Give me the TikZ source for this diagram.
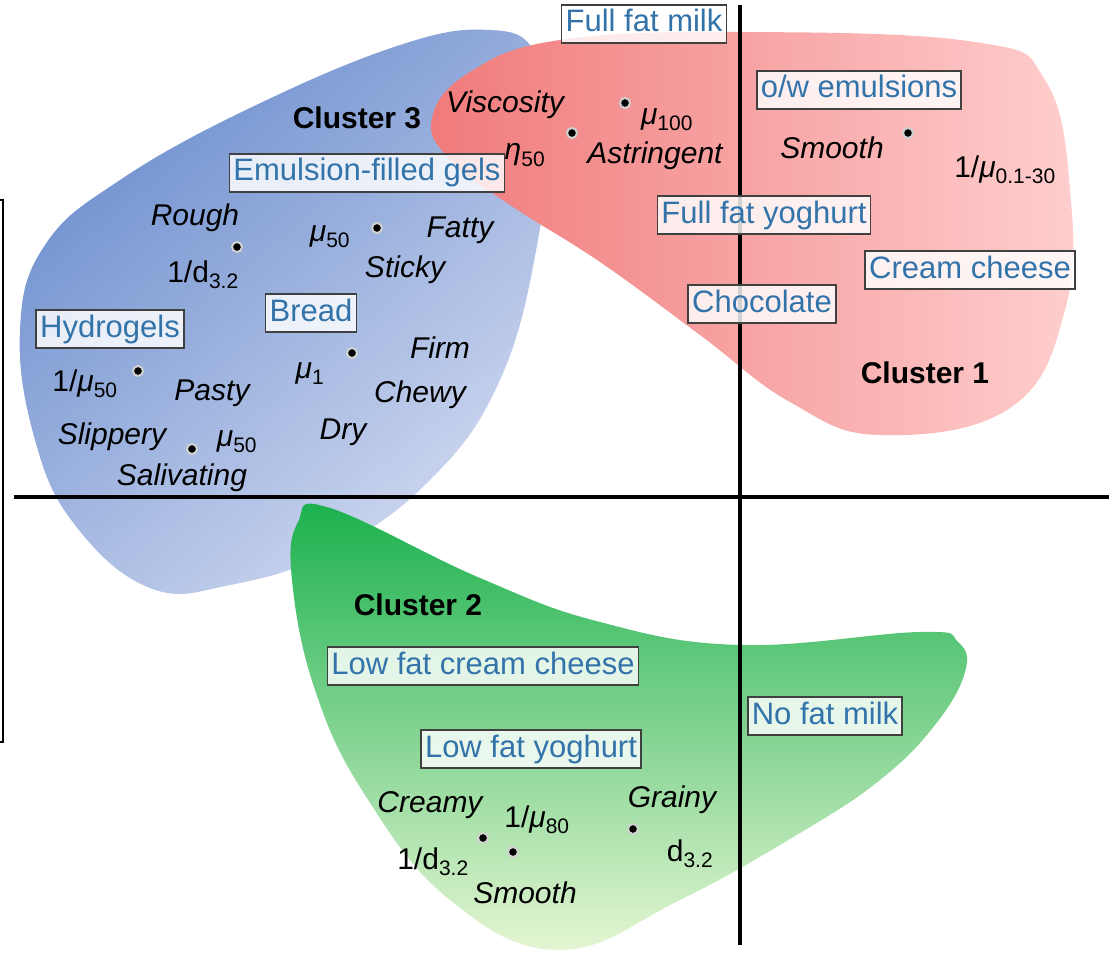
\documentclass[tikz,border=0pt]{standalone}
\usepackage{fontspec}
\setmainfont{Liberation Sans}
\usetikzlibrary{positioning}

\definecolor{boxtext}{RGB}{50,115,170}
\definecolor{blueDark}{RGB}{108,142,206}
\definecolor{blueLight}{RGB}{208,217,240}
\definecolor{redDark}{RGB}{240,122,122}
\definecolor{redLight}{RGB}{255,206,206}
\definecolor{greenDark}{RGB}{25,176,76}
\definecolor{greenLight}{RGB}{228,245,210}

\tikzset{
  sample/.style={draw=black!75, line width=1.5pt, fill=white, fill opacity=0.82,
    text opacity=1, text=boxtext, inner xsep=4pt, inner ysep=4pt,
    text height=23pt, text depth=7pt, font=\fontsize{31}{34}\selectfont},
  attr/.style={inner sep=0pt, font=\fontsize{30}{34}\selectfont\itshape},
  meas/.style={inner sep=0pt, font=\fontsize{30}{34}\selectfont},
  cluster/.style={inner sep=0pt, font=\fontsize{30}{34}\selectfont\bfseries},
  pt/.style={circle, fill=black, draw=black!18, line width=2pt, inner sep=0pt, minimum size=10pt},
  axis/.style={line width=3.5pt},
  blobthree/.style={top color=blueDark, bottom color=blueLight, shading angle=40},
  blobone/.style={left color=redDark, right color=redLight},
  blobtwo/.style={top color=greenDark, bottom color=greenLight},
}

\begin{document}
\begin{tikzpicture}[x=1pt,y=-1pt]
       \useasboundingbox(0,0)rectangle(1109,955);
       % cluster areas
       \shade[blobthree]plot[smooth cycle, tension=0.7]coordinates{(150,588)(75,525)(35,440)(20,330)(45,245)(120,180)(250,108)(400,45)(490,30)(535,52)(548,120)(538,240)(500,380)(430,480)(330,552)(230,585)};
       \shade[blobtwo]plot[smooth cycle, tension=0.7]coordinates{(298,522)(330,508)(480,578)(600,622)(740,645)(920,632)(958,642)(965,672)(935,725)(880,780)(800,833)(680,900)(560,950)(450,900)(365,795)(315,690)(292,580)};
       \shade[blobone]plot[smooth cycle, tension=0.7]coordinates{(432,118)(470,72)(560,40)(740,32)(975,42)(1045,80)(1070,190)(1065,310)(1010,408)(880,435)(790,402)(700,335)(600,262)(510,205)(450,160)};
       % axes
       \coordinate(Left)at(14,497);
       \coordinate(Right)at(1109,497);
       \coordinate(Top)at(740,5);
       \coordinate(Bottom)at(740,945);
       \draw[axis](Left)--(Right);
       \draw[axis](Top)--(Bottom);
       \coordinate(FrameTop)at(0,200);
       \coordinate(FrameBottom)at(0,742);
       \draw[line width=2.5pt](FrameTop)-|(3,742)--(FrameBottom);
       % cluster 3
       \node[cluster](c3)at(357,118){Cluster 3};
       \node[sample](efg)at(367,173){Emulsion-filled gels};
       \node[attr](rough)at(195,218){Rough};
       \node[pt](p31)at(237,247){};
       \node[meas](d32a)at(203,275){1/d\textsubscript{3.2}};
       \node[meas](mu50a)at(330,237){{\itshape μ}\textsubscript{50}};
       \node[pt](p32)at(377,228){};
       \node[attr](fatty)at(460,230){Fatty};
       \node[attr](sticky)at(405,270){Sticky};
       \node[sample](bread)at(311,313){Bread};
       \node[sample](hydro)at(110,329){Hydrogels};
       \node[attr](firm)at(440,348){Firm};
       \node[pt](p33)at(352,353){};
       \node[meas](mu1)at(310,374){{\itshape μ}\textsubscript{1}};
       \node[attr](chewy)at(420,395){Chewy};
       \node[meas](mu50b)at(85,384){1/{\itshape μ}\textsubscript{50}};
       \node[pt](p34)at(138,371){};
       \node[attr](pasty)at(212,393){Pasty};
       \node[attr](slip)at(112,437){Slippery};
       \node[pt](p35)at(192,449){};
       \node[meas](mu50c)at(237,442){{\itshape μ}\textsubscript{50}};
       \node[attr](dry)at(343,432){Dry};
       \node[attr](saliv)at(182,478){Salivating};
       % cluster 1
       \node[sample](ffm)at(644,24){Full fat milk};
       \node[sample](owe)at(859,90){o/w emulsions};
       \node[attr](visc)at(505,105){Viscosity};
       \node[pt](p11)at(625,103){};
       \node[meas](mu100)at(667,120){{\itshape μ}\textsubscript{100}};
       \node[pt](p12)at(572,133){};
       \node[meas](eta50)at(525,155){{\itshape η}\textsubscript{50}};
       \node[attr](astr)at(655,156){Astringent};
       \node[attr](smootha)at(832,148){Smooth};
       \node[pt](p13)at(908,133){};
       \node[meas](mu30)at(1005,170){1/{\itshape μ}\textsubscript{0.1-30}};
       \node[sample](ffy)at(764,215){Full fat yoghurt};
       \node[sample](cream)at(970,270){Cream cheese};
       \node[sample](choc)at(762,304){Chocolate};
       \node[cluster](c1)at(925,373){Cluster 1};
       % cluster 2
       \node[cluster](c2)at(418,605){Cluster 2};
       \node[sample](lfcc)at(483,666){Low fat cream cheese};
       \node[sample](nfm)at(825,716){No fat milk};
       \node[sample](lfy)at(531,749){Low fat yoghurt};
       \node[attr](creamy)at(430,805){Creamy};
       \node[meas](mu80)at(537,820){1/{\itshape μ}\textsubscript{80}};
       \node[attr](grainy)at(672,800){Grainy};
       \node[pt](p21)at(483,838){};
       \node[pt](p22)at(513,852){};
       \node[pt](p23)at(633,829){};
       \node[meas](d32b)at(433,862){1/d\textsubscript{3.2}};
       \node[meas](d32c)at(690,854){d\textsubscript{3.2}};
       \node[attr](smoothb)at(525,893){Smooth};
      \end{tikzpicture}
\end{document}
